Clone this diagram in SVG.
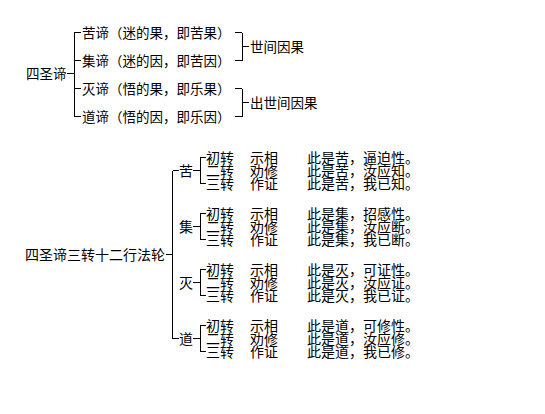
<svg xmlns="http://www.w3.org/2000/svg" width="545" height="414" viewBox="0 0 545 414">
<style>
text{font-family:"Noto Sans CJK SC","Noto Sans CJK TC",sans-serif;fill:#000;dominant-baseline:central}
.t{font-size:13.5px}
.b{font-size:14px}
.c line{stroke:#000;stroke-width:1;shape-rendering:crispEdges}
</style>
<rect width="545" height="414" fill="#fff"/>
<g class="c" id="connectors">
<line x1="67" y1="73" x2="74" y2="73"/>
<line x1="74" y1="32.5" x2="74" y2="116.5"/>
<line x1="74" y1="32.5" x2="81" y2="32.5"/>
<line x1="74" y1="60.5" x2="81" y2="60.5"/>
<line x1="74" y1="88.5" x2="81" y2="88.5"/>
<line x1="74" y1="116.5" x2="81" y2="116.5"/>
<line x1="235" y1="32.5" x2="242" y2="32.5"/>
<line x1="242" y1="32.5" x2="242" y2="60.5"/>
<line x1="235" y1="60.5" x2="242" y2="60.5"/>
<line x1="242" y1="46.5" x2="249" y2="46.5"/>
<line x1="235" y1="88.5" x2="242" y2="88.5"/>
<line x1="242" y1="88.5" x2="242" y2="116.5"/>
<line x1="235" y1="116.5" x2="242" y2="116.5"/>
<line x1="242" y1="102.5" x2="249" y2="102.5"/>
<line x1="166" y1="254.5" x2="172.5" y2="254.5"/>
<line x1="172.5" y1="170.5" x2="172.5" y2="338.5"/>
<line x1="172.5" y1="170.5" x2="179" y2="170.5"/>
<line x1="172.5" y1="338.5" x2="179" y2="338.5"/>
<line x1="193" y1="170.5" x2="200" y2="170.5"/>
<line x1="200" y1="157.5" x2="200" y2="183.5"/>
<line x1="200" y1="157.5" x2="206" y2="157.5"/>
<line x1="200" y1="183.5" x2="206" y2="183.5"/>
<line x1="193" y1="226.5" x2="200" y2="226.5"/>
<line x1="200" y1="213.5" x2="200" y2="239.5"/>
<line x1="200" y1="213.5" x2="206" y2="213.5"/>
<line x1="200" y1="239.5" x2="206" y2="239.5"/>
<line x1="193" y1="282.5" x2="200" y2="282.5"/>
<line x1="200" y1="269.5" x2="200" y2="295.5"/>
<line x1="200" y1="269.5" x2="206" y2="269.5"/>
<line x1="200" y1="295.5" x2="206" y2="295.5"/>
<line x1="193" y1="338.5" x2="200" y2="338.5"/>
<line x1="200" y1="325.5" x2="200" y2="351.5"/>
<line x1="200" y1="325.5" x2="206" y2="325.5"/>
<line x1="200" y1="351.5" x2="206" y2="351.5"/>
</g>
<g id="n-sishengdi"><text class="t" x="26" y="73">四圣谛</text></g>
<g id="n-ku"><text class="t" x="82" y="32">苦谛（迷的果，即苦果）</text></g>
<g id="n-ji"><text class="t" x="82" y="60">集谛（迷的因，即苦因）</text></g>
<g id="n-mie"><text class="t" x="82" y="88">灭谛（悟的果，即乐果）</text></g>
<g id="n-dao"><text class="t" x="82" y="116">道谛（悟的因，即乐因）</text></g>
<g id="n-shijian"><text class="t" x="250" y="46">世间因果</text></g>
<g id="n-chushijian"><text class="t" x="250" y="102">出世间因果</text></g>
<g id="n-root2"><text class="b" x="25" y="254">四圣谛三转十二行法轮</text></g>
<g id="g-ku">
<text class="b" x="179" y="170">苦</text>
<text class="b" x="206" y="157">初转</text><text class="b" x="250" y="157">示相</text><text class="b" x="307" y="157">此是苦，逼迫性。</text>
<text class="b" x="206" y="170">二转</text><text class="b" x="250" y="170">劝修</text><text class="b" x="307" y="170">此是苦，汝应知。</text>
<text class="b" x="206" y="183">三转</text><text class="b" x="250" y="183">作证</text><text class="b" x="307" y="183">此是苦，我已知。</text>
</g>
<g id="g-ji">
<text class="b" x="179" y="226">集</text>
<text class="b" x="206" y="213">初转</text><text class="b" x="250" y="213">示相</text><text class="b" x="307" y="213">此是集，招感性。</text>
<text class="b" x="206" y="226">二转</text><text class="b" x="250" y="226">劝修</text><text class="b" x="307" y="226">此是集，汝应断。</text>
<text class="b" x="206" y="239">三转</text><text class="b" x="250" y="239">作证</text><text class="b" x="307" y="239">此是集，我已断。</text>
</g>
<g id="g-mie">
<text class="b" x="179" y="282">灭</text>
<text class="b" x="206" y="269">初转</text><text class="b" x="250" y="269">示相</text><text class="b" x="307" y="269">此是灭，可证性。</text>
<text class="b" x="206" y="282">二转</text><text class="b" x="250" y="282">劝修</text><text class="b" x="307" y="282">此是灭，汝应证。</text>
<text class="b" x="206" y="295">三转</text><text class="b" x="250" y="295">作证</text><text class="b" x="307" y="295">此是灭，我已证。</text>
</g>
<g id="g-dao">
<text class="b" x="179" y="338">道</text>
<text class="b" x="206" y="325">初转</text><text class="b" x="250" y="325">示相</text><text class="b" x="307" y="325">此是道，可修性。</text>
<text class="b" x="206" y="338">二转</text><text class="b" x="250" y="338">劝修</text><text class="b" x="307" y="338">此是道，汝应修。</text>
<text class="b" x="206" y="351">三转</text><text class="b" x="250" y="351">作证</text><text class="b" x="307" y="351">此是道，我已修。</text>
</g>
</svg>
